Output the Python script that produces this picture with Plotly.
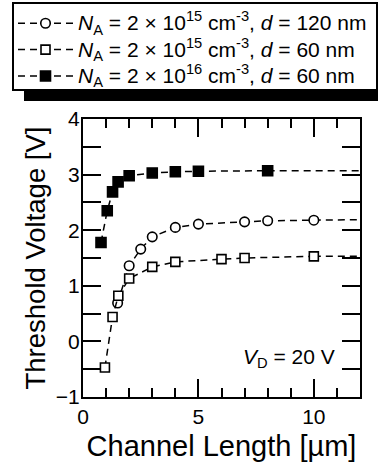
import plotly.graph_objects as go

# Series data (Channel length in um, threshold voltage in V)
circ_x = [1.5, 2.0, 2.5, 3.0, 4.0, 5.0, 7.0, 8.0, 10.0]
circ_y = [0.69, 1.36, 1.66, 1.88, 2.05, 2.11, 2.15, 2.17, 2.18]

osq_x = [0.95, 1.28, 1.53, 2.0, 3.0, 4.0, 6.0, 7.0, 10.0]
osq_y = [-0.47, 0.44, 0.82, 1.13, 1.34, 1.43, 1.48, 1.50, 1.53]

fsq_x = [0.78, 1.05, 1.28, 1.52, 2.0, 3.0, 4.0, 5.0, 8.0]
fsq_y = [1.78, 2.35, 2.69, 2.87, 2.98, 3.03, 3.05, 3.06, 3.07]

# dashed guide curves continue to the right edge of the axes
edge_x = 12
circ_tail = 2.19
osq_tail = 1.53
fsq_tail = 3.07

def label(exp, d):
    return ("<span style='font-size:21px'><i>N</i><sub>A</sub> = 2 × 10<sup>%s</sup> "
            "cm<sup>-3</sup>, <i>d</i> = %s nm</span>" % (exp, d))

names = [label("15", "120"), label("15", "60"), label("16", "60")]

FONT = "Liberation Sans, Arial, sans-serif"
dash = "7px,5px"

fig = go.Figure()

series = [
    (circ_x, circ_y, circ_tail, "circle", "white", 9.5),
    (osq_x, osq_y, osq_tail, "square", "white", 9),
    (fsq_x, fsq_y, fsq_tail, "square", "black", 10),
]

# tails of the dashed curves (drawn first, beneath markers)
for xs, ys, tail, sym, fill, sz in series:
    fig.add_trace(go.Scatter(
        x=[xs[-1], edge_x], y=[ys[-1], tail], mode="lines",
        line=dict(color="black", width=1.5, dash=dash),
        showlegend=False, hoverinfo="skip",
    ))

for i, (xs, ys, tail, sym, fill, sz) in enumerate(series):
    fig.add_trace(go.Scatter(
        x=xs, y=ys, mode="lines+markers", name=names[i],
        line=dict(color="black", width=1.5, dash=dash),
        marker=dict(symbol=sym, size=sz, color=fill,
                    line=dict(color="black", width=1.6)),
        cliponaxis=False,
    ))

fig.add_annotation(
    x=11.0, y=-0.3, xref="x", yref="y", xanchor="right", yanchor="middle",
    text="<i>V</i><sub>D</sub> = 20 V", showarrow=False,
    font=dict(family=FONT, size=21, color="black"),
)

# legend frame with drop shadow
fig.add_shape(type="rect", xref="paper", yref="paper",
              x0=-0.213, x1=1.08, y0=1.0647, y1=1.3777,
              fillcolor="black", line=dict(width=0), layer="above")
fig.add_shape(type="rect", xref="paper", yref="paper",
              x0=-0.2527, x1=1.0614, y0=1.1043, y1=1.4173,
              fillcolor="white", line=dict(color="black", width=2), layer="above")

fig.update_layout(
    width=378, height=466,
    margin=dict(l=83, r=18, t=119, b=69, autoexpand=False),
    paper_bgcolor="white", plot_bgcolor="white",
    font=dict(family=FONT, size=21, color="black"),
    showlegend=True,
    legend=dict(
        x=-0.2527, y=1.41, xanchor="left", yanchor="top",
        bgcolor="rgba(0,0,0,0)", borderwidth=0,
        font=dict(family=FONT, size=18, color="black"),
        itemwidth=55, tracegroupgap=0,
    ),
    xaxis=dict(
        range=[0, 12], tickmode="linear", tick0=0, dtick=5,
        ticks="inside", ticklen=18, tickwidth=1.5, tickcolor="black",
        minor=dict(dtick=1, tick0=0, ticks="inside", ticklen=9, tickwidth=1.5, tickcolor="black"),
        showline=True, linecolor="black", linewidth=2, mirror="ticks",
        showgrid=False, zeroline=False, automargin=False,
        tickfont=dict(size=21),
        title=dict(text="Channel Length [µm]", font=dict(size=29), standoff=8),
    ),
    yaxis=dict(
        range=[-1, 4], tickmode="linear", tick0=0, dtick=1,
        ticks="inside", ticklen=18, tickwidth=1.5, tickcolor="black",
        minor=dict(dtick=0.5, tick0=0, ticks="inside", ticklen=18, tickwidth=1.5, tickcolor="black"),
        showline=True, linecolor="black", linewidth=2, mirror="ticks",
        showgrid=False, zeroline=False, automargin=False,
        tickfont=dict(size=21), ticklabelstandoff=-3,
        title=dict(text="Threshold Voltage [V]", font=dict(size=27.5), standoff=2),
    ),
)

fig.write_html("out.html", config={"displayModeBar": False},
               post_script="document.body.style.margin='0px';")
